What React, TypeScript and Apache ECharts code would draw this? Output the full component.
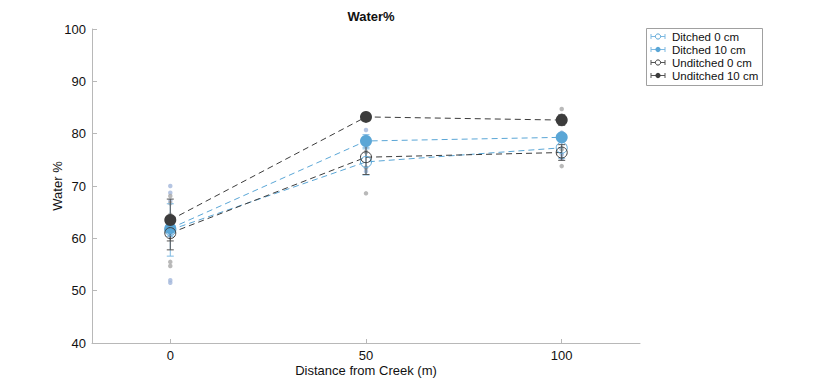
import React, { useEffect, useRef } from "react";
import * as echarts from "echarts";

const distances = [0, 50, 100];
const seriesNames = ["Ditched 0 cm", "Ditched 10 cm", "Unditched 0 cm", "Unditched 10 cm"];
const meanD0 = [61.6, 74.6, 77.3];
const meanD10 = [61.9, 78.6, 79.3];
const meanU0 = [61.0, 75.5, 76.4];
const meanU10 = [63.5, 83.2, 82.6];
const errD0 = [5.0, 2.5, 2.0];
const errD10 = [1.5, 1.2, 0.8];
const errU0 = [3.2, 3.3, 1.5];
const errU10 = [4.0, 0.6, 1.0];
const rawDitched: number[][] = [
  [0, 70.0], [0, 68.7], [0, 67.2], [0, 62.5], [0, 60.5], [0, 52.0], [0, 51.5],
  [50, 80.7], [50, 79.5], [50, 77.5], [50, 73.5], [50, 72.8],
  [100, 80.2], [100, 78.5], [100, 76.0], [100, 75.2],
];
const rawUnditched: number[][] = [
  [0, 68.1], [0, 66.7], [0, 64.5], [0, 62.0], [0, 55.5], [0, 54.7],
  [50, 83.8], [50, 82.8], [50, 76.5], [50, 73.5], [50, 68.6],
  [100, 84.7], [100, 83.5], [100, 81.8], [100, 77.0], [100, 73.8],
];
const yTicks = [40, 100, 10];
const xTickValues = [0, 50, 100];

const BLUE = "#5aa6d6";
const BLUE_ERR = "#7db9e2";
const DARK = "#3c3c3c";
const DARK_ERR = "#555555";
const RAW_BLUE = "#a3b7db";
const RAW_GREY = "#a8a8a8";

export default function App() {
  const ref = useRef<HTMLDivElement>(null);
  useEffect(() => {
    if (!ref.current) return;
    const chart = echarts.init(ref.current, null, { renderer: "svg" });
    const means = [meanD0, meanD10, meanU0, meanU10];
    const errs = [errD0, errD10, errU0, errU10];
    const lineColors = [BLUE, BLUE, DARK, DARK];
    const errColors = [BLUE_ERR, BLUE_ERR, DARK_ERR, DARK_ERR];
    const filled = [false, true, false, true];

    const errSeries = means.map((m, i) => ({
      type: "custom",
      name: seriesNames[i] + " err",
      z: 3,
      silent: true,
      data: distances.map((d, j) => [d, m[j] - errs[i][j], m[j] + errs[i][j]]),
      renderItem: (params: any, api: any) => {
        const x = api.value(0);
        const lo = api.coord([x, api.value(1)]);
        const hi = api.coord([x, api.value(2)]);
        const w = 3.5;
        const style = { stroke: errColors[i], lineWidth: 1 };
        return {
          type: "group",
          children: [
            { type: "line", shape: { x1: lo[0], y1: lo[1], x2: hi[0], y2: hi[1] }, style },
            { type: "line", shape: { x1: lo[0] - w, y1: lo[1], x2: lo[0] + w, y2: lo[1] }, style },
            { type: "line", shape: { x1: hi[0] - w, y1: hi[1], x2: hi[0] + w, y2: hi[1] }, style },
          ],
        };
      },
    }));

    const lineSeries = means.map((m, i) => ({
      type: "line",
      name: seriesNames[i],
      z: 4,
      data: distances.map((d, j) => [d, m[j]]),
      symbol: "circle",
      symbolSize: filled[i] ? 12 : 11,
      lineStyle: { color: lineColors[i], width: 1, type: [6, 4] },
      itemStyle: filled[i]
        ? { color: lineColors[i], borderWidth: 0 }
        : { color: "rgba(255,255,255,0)", borderColor: lineColors[i], borderWidth: 1 },
    }));

    const legendEls: any[] = [
      {
        type: "rect",
        shape: { x: 646.5, y: 28.5, width: 116, height: 57 },
        style: { fill: "#fff", stroke: "#a0a0a0", lineWidth: 1 },
        z: 10,
      },
    ];
    seriesNames.forEach((n, i) => {
      const y = 36.5 + i * 13;
      const c = lineColors[i];
      const ec = errColors[i];
      legendEls.push(
        { type: "line", z: 11, shape: { x1: 651, y1: y, x2: 665, y2: y }, style: { stroke: ec, lineWidth: 1 } },
        { type: "line", z: 11, shape: { x1: 651, y1: y - 2.5, x2: 651, y2: y + 2.5 }, style: { stroke: ec, lineWidth: 1 } },
        { type: "line", z: 11, shape: { x1: 665, y1: y - 2.5, x2: 665, y2: y + 2.5 }, style: { stroke: ec, lineWidth: 1 } },
        {
          type: "circle",
          z: 12,
          shape: { cx: 658, cy: y, r: 2.6 },
          style: filled[i] ? { fill: c } : { fill: "#fff", stroke: c, lineWidth: 1 },
        },
        {
          type: "text",
          z: 12,
          x: 672,
          y: y,
          style: { text: n, fill: "#111", font: "11.5px 'Liberation Sans', Arial, sans-serif", verticalAlign: "middle" },
        }
      );
    });

    chart.setOption({
      animation: false,
      backgroundColor: "#fff",
      textStyle: { fontFamily: "'Liberation Sans', Arial, sans-serif" },
      title: {
        text: "Water%",
        left: 366,
        textAlign: "center",
        top: 5,
        textStyle: { fontSize: 13, fontWeight: "bold", color: "#111" },
      },
      grid: { left: 92, top: 29, width: 548, height: 314 },
      xAxis: {
        type: "value",
        min: -20,
        max: 120,
        interval: 10,
        name: "Distance from Creek (m)",
        nameLocation: "middle",
        nameGap: 21,
        nameMoveOverlap: false,
        nameTextStyle: { fontSize: 13, color: "#111" },
        axisLine: { onZero: false, lineStyle: { color: "#b8b8b8" } },
        axisTick: { inside: true, length: 4, customValues: xTickValues, lineStyle: { color: "#b8b8b8" } },
        axisLabel: { customValues: xTickValues, fontSize: 13, color: "#111", margin: 6 },
        splitLine: { show: false },
      },
      yAxis: {
        type: "value",
        min: yTicks[0],
        max: yTicks[1],
        interval: yTicks[2],
        name: "Water %",
        nameLocation: "middle",
        nameGap: 28,
        nameMoveOverlap: false,
        nameTextStyle: { fontSize: 13, color: "#111" },
        axisLine: { show: true, onZero: false, lineStyle: { color: "#b8b8b8" } },
        axisTick: { show: true, inside: true, length: 5, lineStyle: { color: "#b8b8b8" } },
        axisLabel: { fontSize: 13, color: "#111", margin: 6 },
        splitLine: { show: false },
      },
      graphic: legendEls,
      series: [
        {
          type: "scatter",
          name: "raw ditched",
          z: 2,
          symbolSize: 4.5,
          itemStyle: { color: RAW_BLUE },
          data: rawDitched,
        },
        {
          type: "scatter",
          name: "raw unditched",
          z: 2,
          symbolSize: 4.5,
          itemStyle: { color: RAW_GREY },
          data: rawUnditched,
        },
        ...errSeries,
        ...lineSeries,
      ],
    });
    return () => chart.dispose();
  }, []);
  return <div ref={ref} style={{ position: "fixed", left: 0, top: 0, width: 828, height: 386 }} />;
}
